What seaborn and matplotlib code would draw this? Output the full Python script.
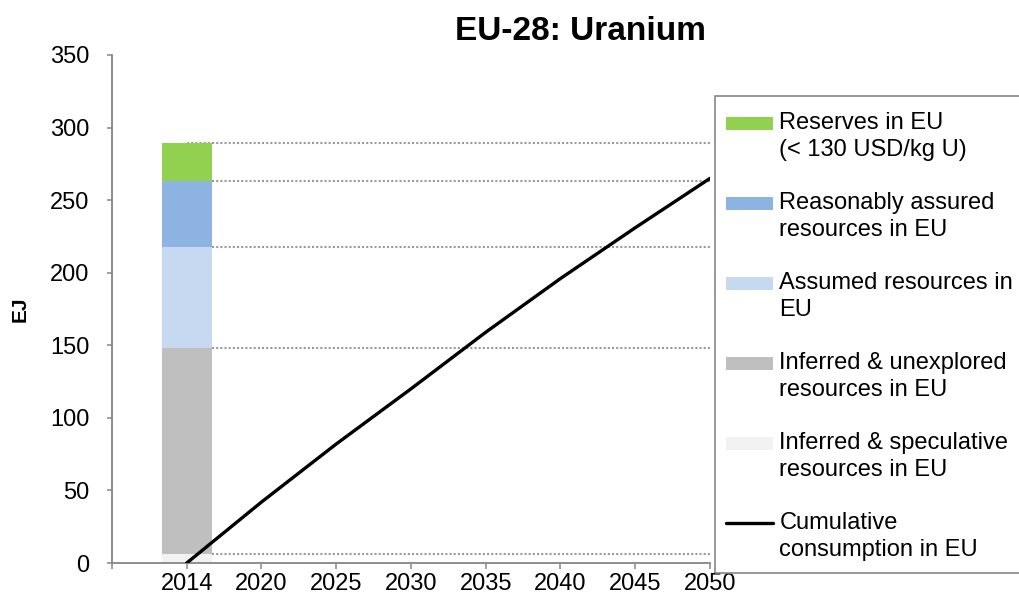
import numpy as np
import pandas as pd
import matplotlib
matplotlib.use("Agg")
import matplotlib.pyplot as plt
import seaborn as sns
from matplotlib.patches import Rectangle, Patch
from matplotlib.lines import Line2D
from matplotlib.legend_handler import HandlerBase

# ---------------- data ----------------
years = ["2014", "2020", "2025", "2030", "2035", "2040", "2045", "2050"]
cumulative_consumption = [0, 42, 82, 120, 159, 196, 231, 265]

resource_labels = [
    "Inferred & speculative\nresources in EU",
    "Inferred & unexplored\nresources in EU",
    "Assumed resources in\nEU",
    "Reasonably assured\nresources in EU",
    "Reserves in EU\n(< 130 USD/kg U)",
]
resource_values = [6.4, 142.0, 69.6, 45.0, 26.5]
resource_colors = ["#F2F2F2", "#BFBFBF", "#C6D9F1", "#8DB3E2", "#92D050"]

title = "EU-28: Uranium"
ylabel = "EJ"
yticks = [0, 50, 100, 150, 200, 250, 300, 350]

# ---------------- style ----------------
sns.set_style("white")
plt.rcParams["font.family"] = ["Liberation Sans", "DejaVu Sans"]
plt.rcParams["text.color"] = "black"
plt.rcParams["axes.labelcolor"] = "black"

W, H = 1020, 602
fig = plt.figure(figsize=(W / 100, H / 100), dpi=100)
ax = fig.add_axes([112 / W, 1 - 563 / H, (710 - 112) / W, (563 - 55) / H])

xpos = np.arange(len(years))
bar_x = xpos[0]

# stacked bar
bottom = 0.0
tops = []
for lab, val, col in zip(resource_labels, resource_values, resource_colors):
    sns.barplot(x=[bar_x], y=[val], bottom=bottom, width=0.67, native_scale=True,
                color=col, linewidth=0, edgecolor="none", errorbar=None,
                saturation=1, ax=ax, zorder=2)
    bottom += val
    tops.append(bottom)

# dotted reference lines at each stack level
ax.hlines(tops, xpos[0], xpos[-1], colors="#9A9A9A", linestyles=(0, (1, 1)),
          linewidth=1.5, zorder=1)

# cumulative consumption line
df_line = pd.DataFrame({"x": xpos, "y": cumulative_consumption})
sns.lineplot(data=df_line, x="x", y="y", color="black", linewidth=2.4, ax=ax, zorder=3)

# axes
ax.set_xlim(-1, len(years) - 1)
ax.set_ylim(0, 350)
ax.set_xticks(np.arange(-1, len(years)))
ax.set_xticklabels([""] + years)
ax.set_yticks(yticks)
ax.set_yticklabels([str(v) for v in yticks])
ax.set_xlabel("")
ax.set_ylabel(ylabel, fontsize=15, fontweight="bold", color="black")
ax.yaxis.set_label_coords(-0.137, 0.5)

for s in ["top", "right"]:
    ax.spines[s].set_visible(False)
for s in ["left", "bottom"]:
    ax.spines[s].set_color("#868686")
    ax.spines[s].set_linewidth(1.3)
ax.tick_params(axis="x", direction="out", length=4.5, width=1.1, color="#868686",
               labelcolor="black", labelsize=17, pad=3, bottom=True)
ax.tick_params(axis="y", direction="out", length=3.8, width=1.1, color="#868686",
               labelcolor="black", labelsize=17, pad=12.5, left=True)
ax.grid(False)

fig.text(581 / W, 1 - 32 / H, title, ha="center", va="center",
         fontsize=24, fontweight="bold", color="black")


# legend: handle aligned with first text line
class FirstLineHandler(HandlerBase):
    def __init__(self, shift):
        super().__init__()
        self.shift = shift

    def create_artists(self, legend, orig_handle, xdescent, ydescent, width,
                       height, fontsize, trans):
        cy = height / 2 - ydescent + self.shift
        if isinstance(orig_handle, Line2D):
            art = Line2D([-xdescent, -xdescent + width], [cy, cy],
                         color=orig_handle.get_color(),
                         linewidth=orig_handle.get_linewidth())
        else:
            h = 9.4
            art = Rectangle((-xdescent, cy - h / 2), width, h,
                            facecolor=orig_handle.get_facecolor(), edgecolor="none")
        art.set_transform(trans)
        return [art]


handles = [Patch(facecolor=c) for c in resource_colors[::-1]]
handles.append(Line2D([0], [0], color="black", linewidth=2.4))
labels = resource_labels[::-1] + ["Cumulative\nconsumption in EU"]

shift = 9.9
hmap = {h: FirstLineHandler(shift) for h in handles}
leg = fig.legend(handles, labels, handler_map=hmap, loc="upper left",
                 bbox_to_anchor=(712 / W, 1 - 98 / H), bbox_transform=fig.transFigure,
                 borderaxespad=0, fontsize=17, frameon=False, borderpad=0.6,
                 handlelength=2.0, handletextpad=0.25, labelspacing=1.31)
for t in leg.get_texts():
    t.set_linespacing(1.3)
    t.set_color("black")

# legend frame (box runs off the right edge, as in the source)
fig.add_artist(Rectangle((715 / W, 1 - 573 / H), (1040 - 715) / W, (573 - 96) / H,
                         transform=fig.transFigure, fill=False,
                         edgecolor="#868686", linewidth=1.2))

fig.savefig("out.png", dpi=100)
